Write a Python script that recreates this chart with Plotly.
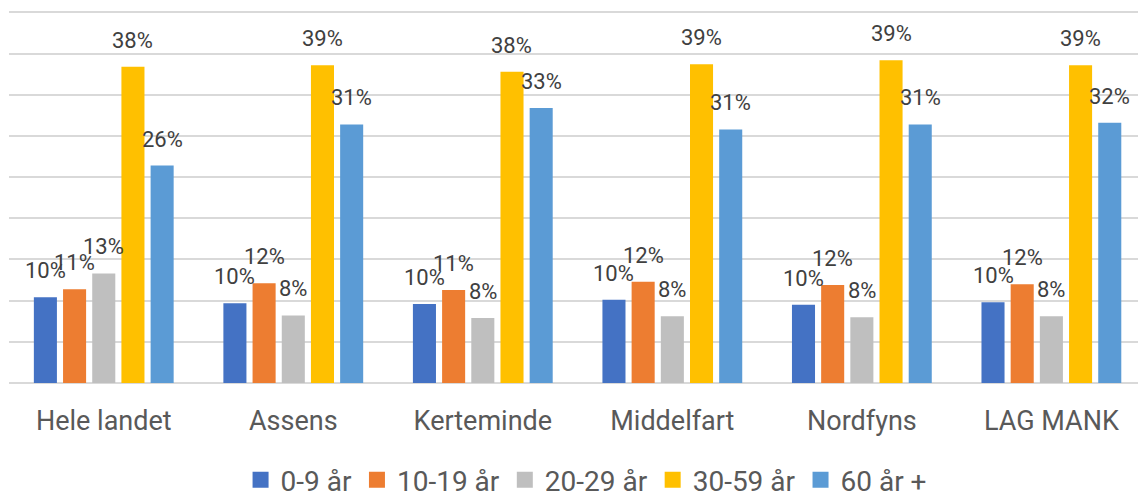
import plotly.graph_objects as go

categories = ["Hele landet", "Assens", "Kerteminde", "Middelfart", "Nordfyns", "LAG MANK"]
series_names = ["0-9 år", "10-19 år", "20-29 år", "30-59 år", "60 år +"]
age_0_9 = [10.4, 9.7, 9.6, 10.1, 9.5, 9.8]
age_10_19 = [11.4, 12.1, 11.3, 12.3, 11.9, 12.0]
age_20_29 = [13.3, 8.2, 7.9, 8.1, 8.0, 8.1]
age_30_59 = [38.4, 38.6, 37.8, 38.7, 39.2, 38.6]
age_60_plus = [26.4, 31.4, 33.4, 30.8, 31.4, 31.6]
series_values = [age_0_9, age_10_19, age_20_29, age_30_59, age_60_plus]
colors = ["#4472C4", "#ED7D31", "#BFBFBF", "#FFC000", "#5B9BD5"]

W, H = 1138, 495
ML, MR, MT, MB = 9, 0, 9.5, 112
BARGAP = 0.23
BARGROUPGAP = 0.21
XRANGE = [-0.5, 5.457]
YRANGE = [0, 45.3]

fig = go.Figure()
for name, vals, col in zip(series_names, series_values, colors):
    fig.add_trace(go.Bar(
        name=name, x=categories, y=vals,
        marker=dict(color=col, line=dict(width=0)),
        hoverinfo="skip", showlegend=False, legendgroup=name,
    ))
# legend swatches (larger squares, as in the reference)
for name, col in zip(series_names, colors):
    fig.add_trace(go.Scatter(
        name=name, x=[None], y=[None], mode="markers",
        marker=dict(symbol="square", size=16, color=col),
        hoverinfo="skip", showlegend=True, legendgroup=name,
    ))

# data labels above each bar
plot_w = W - ML - MR
cat_px = plot_w / (XRANGE[1] - XRANGE[0])
pitch = cat_px * (1 - BARGAP) / len(series_names)
annotations = []
for i, vals in enumerate(series_values):
    off = (i - (len(series_names) - 1) / 2) * pitch
    for c, v in zip(categories, vals):
        annotations.append(dict(
            x=c, y=v, xref="x", yref="y", text=f"{v:.0f}%",
            showarrow=False, xanchor="center", yanchor="bottom",
            xshift=off, yshift=12,
            font=dict(family="Roboto", size=22, color="#404040"),
        ))

fig.update_layout(
    width=W, height=H,
    margin=dict(l=ML, r=MR, t=MT, b=MB, autoexpand=False),
    paper_bgcolor="white", plot_bgcolor="white",
    barmode="group", bargap=BARGAP, bargroupgap=BARGROUPGAP,
    font=dict(family="Roboto", color="#595959"),
    annotations=annotations,
    showlegend=True,
    legend=dict(
        orientation="h", xref="container", yref="container",
        x=0.515, y=0.03, xanchor="center", yanchor="middle",
        font=dict(family="Roboto", size=28, color="#595959"),
        itemwidth=30, traceorder="normal",
    ),
    xaxis=dict(
        range=XRANGE, showgrid=False, showline=False, zeroline=False,
        ticks="", tickfont=dict(family="Roboto", size=27, color="#595959"),
        ticklabelstandoff=19,
    ),
    yaxis=dict(
        range=YRANGE, tick0=0, dtick=5, showgrid=True, gridcolor="#D9D9D9", gridwidth=1.5,
        showticklabels=False, zeroline=True, zerolinecolor="#D9D9D9", zerolinewidth=1.5,
        showline=False, ticks="",
    ),
)

fig.write_html(
    "out.html",
    config={"displayModeBar": False},
    post_script="document.body.style.margin='0';document.body.style.overflow='hidden';",
)
